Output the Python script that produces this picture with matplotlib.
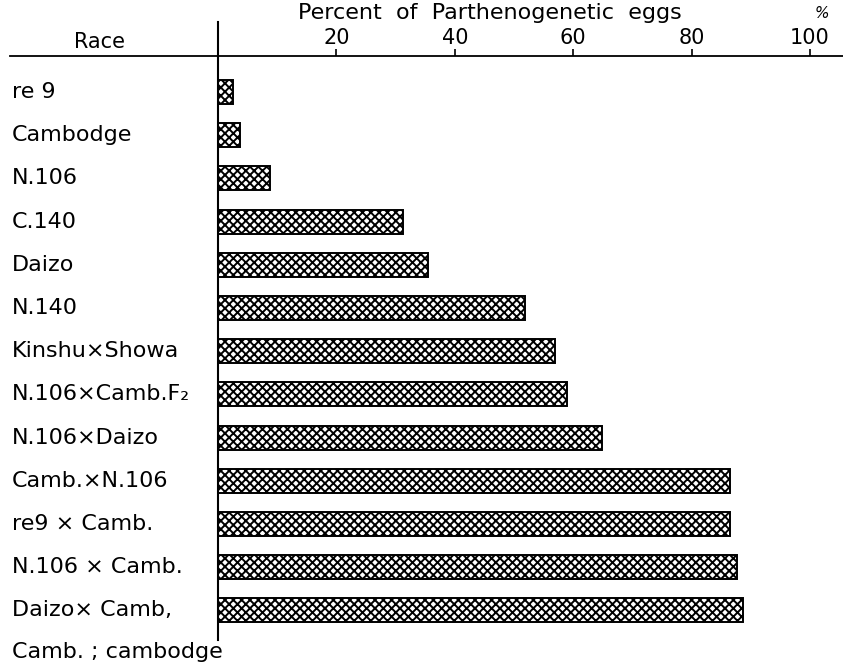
import numpy as np
import matplotlib
matplotlib.use('Agg')
import matplotlib.pyplot as plt

#races and percent of parthenogenetic eggs
races = ['re 9', 'Cambodge', 'N.106', 'C.140', 'Daizo', 'N.140',
         'Kinshu×Showa', 'N.106×Camb.F₂', 'N.106×Daizo', 'Camb.×N.106',
         're9 × Camb.', 'N.106 × Camb.', 'Daizo× Camb,']
pct = [2.5, 3.7, 8.8, 31.3, 35.4, 51.9, 56.9, 58.9, 64.8, 86.5, 86.5, 87.7, 88.6]
ticks = [20, 40, 60, 80, 100]
footnote = 'Camb. ; cambodge'

plt.rcParams['font.family'] = ['DejaVu Sans']
plt.rcParams['hatch.linewidth'] = 1.4

W, H = 843, 667
fig = plt.figure(figsize=(W/100, H/100), dpi=100)
x0, ytop, ybot = 218, 56, 640
ax = fig.add_axes([x0/W, 1-ybot/H, (W-x0)/W, (ybot-ytop)/H])

y = np.arange(len(races))
ax.barh(y, pct, height=0.56, color='white', edgecolor='black',
        hatch='xxxx', linewidth=1.4)

ax.set_xlim(0, (W-x0)/5.92)
ax.set_ylim((ybot-92)/43.2, (ytop-92)/43.2)

for s in ['right', 'bottom']:
    ax.spines[s].set_visible(False)
ax.spines['top'].set_linewidth(1.3)
ax.spines['left'].set_linewidth(1.5)
ax.xaxis.tick_top()
ax.set_xticks(ticks)
ax.set_xticklabels([str(t) for t in ticks], fontsize=15)
ax.tick_params(axis='x', direction='out', length=5, width=1.2, pad=1)
ax.set_yticks([])

#extend the axis lines past the frame
ax.plot([-(x0-10)/(W-x0), 0], [1, 1], color='black', lw=1.3,
        transform=ax.transAxes, clip_on=False)
ax.plot([0, 0], [1, 1+34/(ybot-ytop)], color='black', lw=1.5,
        transform=ax.transAxes, clip_on=False)

lx = -(x0-12)/(W-x0)
for yi, r in zip(y, races):
    ax.text(lx, yi, r, transform=ax.get_yaxis_transform(), ha='left',
            va='center', fontsize=16)

fig.text(100/W, 1-42/H, 'Race', ha='center', va='center', fontsize=15)
fig.text(490/W, 1-13/H, 'Percent  of  Parthenogenetic  eggs', ha='center',
         va='center', fontsize=16)
fig.text(822/W, 1-13/H, '%', ha='center', va='center', fontsize=11,
         style='italic')
fig.text(12/W, 1-652/H, footnote, ha='left', va='center', fontsize=16)

fig.savefig('out.png', dpi=100)
